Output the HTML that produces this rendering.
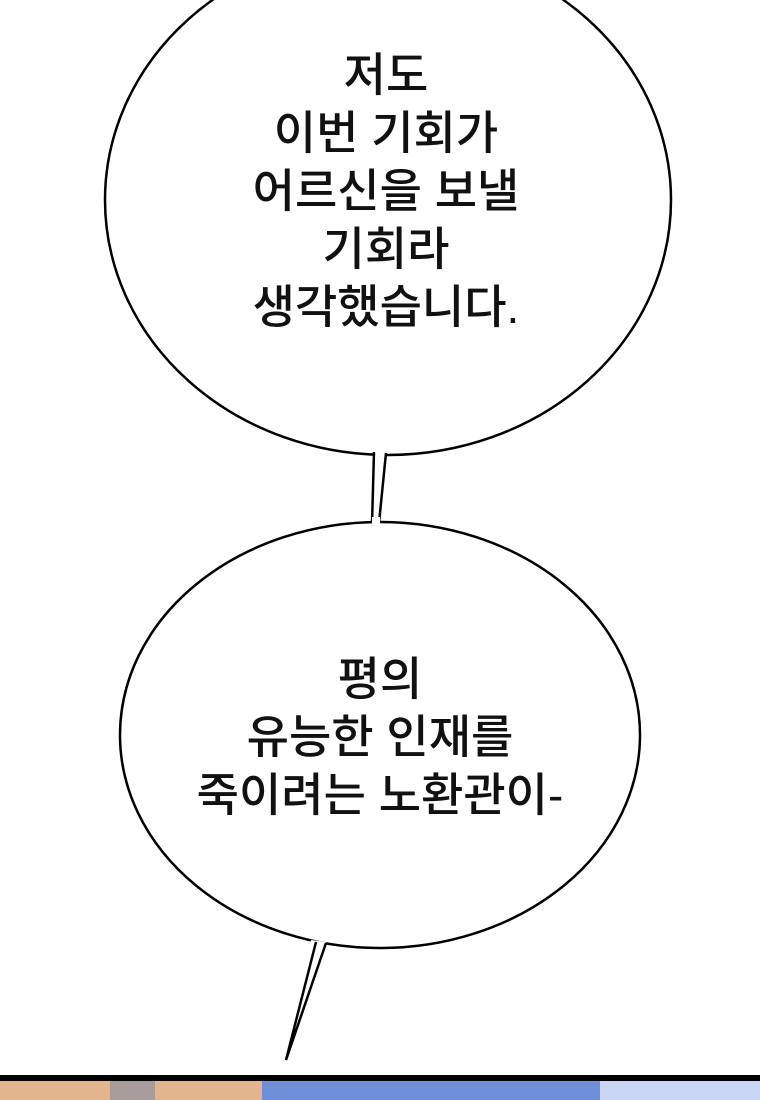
<!DOCTYPE html>
<html><head><meta charset="utf-8"><style>
html,body{margin:0;padding:0;background:#fff;}
body{width:760px;height:1100px;overflow:hidden;position:relative;}
.t{position:absolute;left:0;width:760px;text-align:center;font-family:"Liberation Sans","Noto Sans CJK KR",sans-serif;font-size:46px;font-weight:500;color:#111;line-height:58px;}
</style></head><body>
<svg width="760" height="1100" style="position:absolute;left:0;top:0">
<rect x="0" y="1075" width="760" height="6" fill="#000"/>
<rect x="0" y="1081" width="760" height="19" fill="#e2b58e"/>
<rect x="110" y="1081" width="45" height="19" fill="#a89c9a"/>
<rect x="262" y="1081" width="498" height="19" fill="#6f8fd8"/>
<rect x="600" y="1081" width="160" height="19" fill="#c9d6f3"/>
<ellipse cx="388" cy="200" rx="283" ry="255" fill="#fff" stroke="#000" stroke-width="2.5"/>
<rect x="373" y="448" width="14" height="10" fill="#fff"/>
<path d="M374 452 L372 524 M386 453 L379 523" stroke="#000" stroke-width="2.5" fill="none"/>
<ellipse cx="380" cy="735" rx="260" ry="213" fill="#fff" stroke="#000" stroke-width="2.5"/>
<rect x="372" y="517" width="8" height="10" fill="#fff"/>
<path d="M311 940 L286 1060 L326 942 Z" fill="#fff"/>
<path d="M316 942 L286 1060 L326 943" stroke="#000" stroke-width="2.5" fill="none"/>
</svg>
<div class="t" style="top:46px;left:6px">저도<br>이번 기회가<br>어르신을 보낼<br>기회라<br>생각했습니다.</div>
<div class="t" style="top:650px;">평의<br>유능한 인재를<br>죽이려는 노환관이-</div>
</body></html>
